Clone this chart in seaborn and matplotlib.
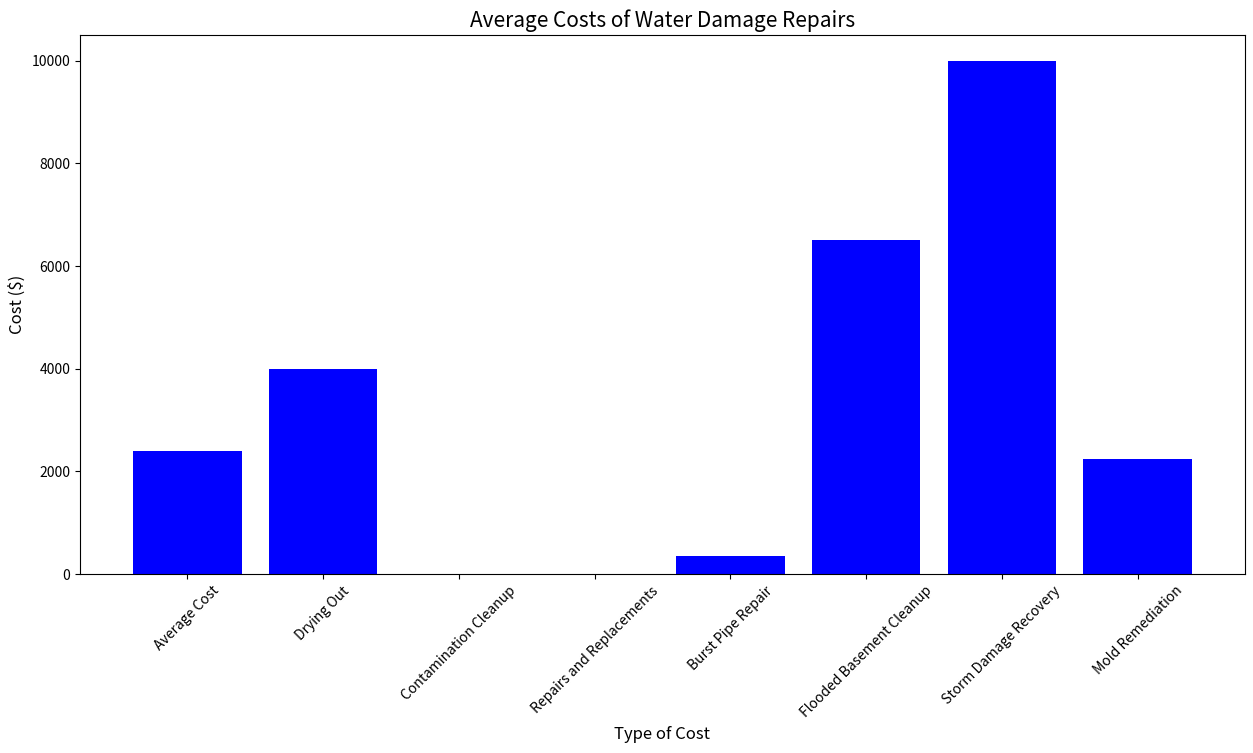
import matplotlib
matplotlib.use("Agg")
import matplotlib.pyplot as plt
import pandas as pd
import seaborn as sns

plt.rcParams['font.family'] = ['Noto Sans CJK JP', 'DejaVu Sans']

categories = ['Average Cost', 'Drying Out', 'Contamination Cleanup',
              'Repairs and Replacements', 'Burst Pipe Repair',
              'Flooded Basement Cleanup', 'Storm Damage Recovery',
              'Mold Remediation']
costs = [2400, 4000, 0, 0, 350, 6500, 10000, 2250]

df = pd.DataFrame({'type': categories, 'cost': costs})

fig, ax = plt.subplots(figsize=(12.53, 7.53), dpi=100)
sns.barplot(data=df, x='type', y='cost', color='blue', saturation=1,
            width=0.8, errorbar=None, ax=ax)
n = len(categories)
pad = 0.05 * (n - 0.2)
ax.set_xlim(-0.4 - pad, n - 0.6 + pad)
ax.set_title('Average Costs of Water Damage Repairs', fontsize=15)
ax.set_xlabel('Type of Cost', fontsize=12)
ax.set_ylabel('Cost ($)', fontsize=12)
plt.xticks(rotation=45)
fig.subplots_adjust(left=0.0638, right=0.9936, top=0.9535, bottom=0.2377)
fig.savefig('out.png', dpi=100)
